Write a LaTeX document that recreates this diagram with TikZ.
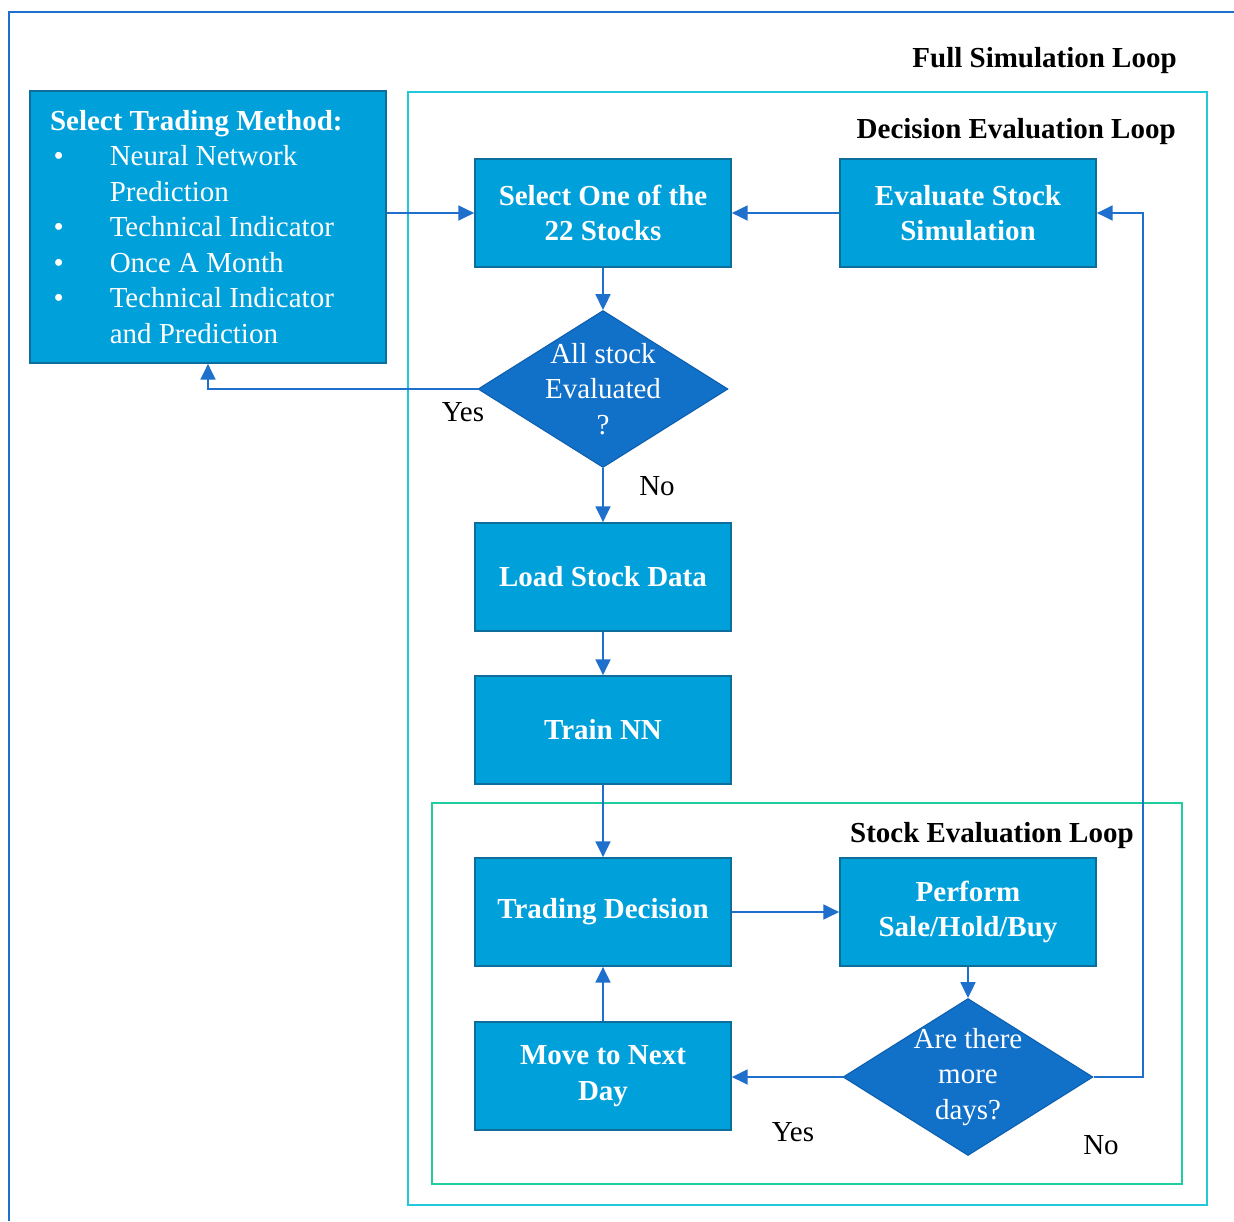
\documentclass[tikz,border=0pt]{standalone}
\usepackage{fontspec}
\setmainfont{Liberation Serif}
\usetikzlibrary{arrows.meta,shapes.geometric}

\definecolor{boxfill}{HTML}{00A0DA}
\definecolor{boxline}{HTML}{0D6E9C}
\definecolor{decfill}{HTML}{1170C8}
\definecolor{decline}{HTML}{0E5FAE}
\definecolor{flowblue}{HTML}{1F6FCC}
\definecolor{loopcyan}{HTML}{22C9DA}
\definecolor{loopgreen}{HTML}{1FCE9C}
\newcommand{\bigtxt}{\fontsize{16.5}{20.2}\selectfont}
\newcommand{\itm}{\makebox[34pt][l]{\hspace{2pt}\textbullet}}
\newcommand{\cnt}{\hspace*{34pt}}

\begin{document}
\begin{tikzpicture}[
    x=0.02cm, y=-0.02cm,
    >={Triangle[length=9pt,width=8.5pt]},
    proc/.style={rectangle, draw=boxline, fill=boxfill, line width=1pt, text=white, font=\bigtxt\bfseries, minimum width=5.12cm, minimum height=2.16cm, align=center, inner sep=2pt},
    method/.style={rectangle, draw=boxline, fill=boxfill, line width=1pt, text=white, font=\bigtxt, minimum width=7.12cm, minimum height=5.44cm, text width=6.32cm, inner xsep=0.4cm, align=flush left},
    decide/.style={diamond, draw=decline, fill=decfill, line width=0.6pt, minimum width=5cm, minimum height=3.14cm, inner sep=0pt},
    dtext/.style={text=white, font=\bigtxt, align=center},
    flow/.style={->, draw=flowblue, line width=1.1pt},
    frame/.style={line width=1.3pt},
    title/.style={anchor=east, inner sep=0pt, font=\bigtxt\bfseries},
    answer/.style={font=\bigtxt}
]
    \useasboundingbox (0,0) rectangle (1234,1221);

    % loop frames
    \draw[flowblue, frame] (9,1221) -- (9,12) -- (1234,12);
    \draw[loopcyan, frame] (408,92) rectangle (1207,1205);
    \draw[loopgreen, frame] (432,803) rectangle (1182,1184);

    \node[title] (fulltitle) at (1177,61) {Full Simulation Loop};
    \node[title] (dectitle) at (1176,132) {Decision Evaluation Loop};
    \node[title] (stocktitle) at (1134,836) {Stock Evaluation Loop};

    \node[method] (method) at (208,227) {{\bfseries Select Trading Method:}\\\itm Neural Network\\\cnt Prediction\\\itm Technical Indicator\\\itm Once A Month\\\itm Technical Indicator\\\cnt and Prediction};

    \foreach \nm/\x/\y/\txt in {pick/603/213/{Select One of the\\22 Stocks}, eval/968/213/{Evaluate Stock\\Simulation}, load/603/577/{Load Stock Data}, train/603/730/{Train NN}, trade/603/912/{Trading Decision}, act/968/912/{Perform\\Sale/Hold/Buy}, next/603/1076/{Move to Next\\Day}} {
        \node[proc] (\nm) at (\x,\y) {\txt};
    }

    \node[decide, label={[dtext]center:All stock\\Evaluated\\?}] (allq) at (603,389) {};
    \node[decide, label={[dtext]center:Are there\\more\\days?}] (moreq) at (968,1077) {};
    \coordinate (rail) at (1143,213);

    \draw[flow] (method.east |- pick.west) -- (pick.west);
    \draw[flow] (eval.west) -- (pick.east);
    \draw[flow] (pick.south) -- (allq.north);
    \draw[flow] (allq.west) -| (method.south);
    \draw[flow] (allq.south) -- (load.north);
    \draw[flow] (load.south) -- (train.north);
    \draw[flow] (train.south) -- (trade.north);
    \draw[flow] (trade.east) -- (act.west);
    \draw[flow] (act.south) -- (moreq.north);
    \draw[flow] (moreq.west) -- (moreq.west -| next.east);
    \draw[flow] (next.north) -- (trade.south);
    \draw[flow] (moreq.east) -| (rail) -- (eval.east);

    \node[answer] (yesall) at (463,412) {Yes};
    \node[answer] (noall) at (657,486) {No};
    \node[answer] (yesmore) at (793,1132) {Yes};
    \node[answer] (nomore) at (1101,1145) {No};
\end{tikzpicture}
\end{document}
